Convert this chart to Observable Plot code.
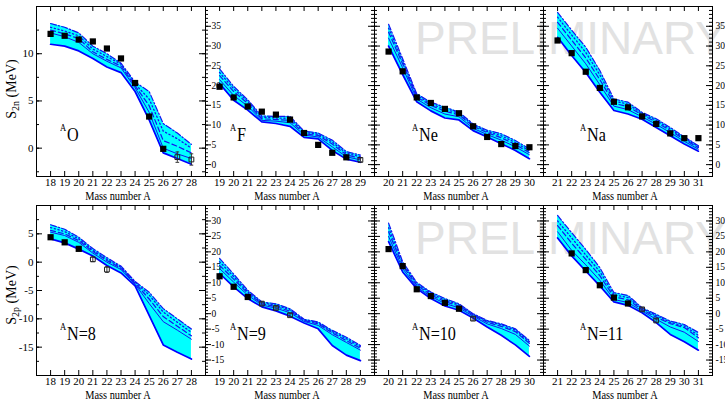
<!DOCTYPE html>
<html><head><meta charset="utf-8">
<script src="https://cdn.jsdelivr.net/npm/d3@7"></script>
<script src="https://cdn.jsdelivr.net/npm/@observablehq/plot@0.6"></script>
<style>
body{margin:0;background:#fff;}
#chart{position:relative;width:725px;height:402px;overflow:hidden;font-family:"Liberation Serif","Times New Roman",serif;color:#000;}
.wm{position:absolute;font-family:"Liberation Sans",sans-serif;font-size:46px;color:#e2e2e2;white-space:nowrap;line-height:1;}
.ytitle{position:absolute;white-space:nowrap;font-size:14px;line-height:1;transform:translate(-50%,-50%) rotate(-90deg);}
.ytitle span{font-size:10px;position:relative;top:3px;}
.xtitle{position:absolute;white-space:nowrap;font-size:11.5px;line-height:1;transform:translate(-50%,-50%) scaleX(0.9);}
.lab{position:absolute;white-space:nowrap;line-height:1;transform-origin:left top;transform:scaleX(0.85);}
svg{position:absolute;}
</style>
</head><body>
<div id="chart">
  <div class="wm" style="left:415px;top:15px">PRELIMINARY</div>
  <div class="wm" style="left:415px;top:215px">PRELIMINARY</div>
</div>
<script>
// ---------- data ----------
const topLabels = ["O", "F", "Ne", "Na"];
const bottomLabels = ["N=8", "N=9", "N=10", "N=11"];
const xTitle = "Mass number A";

const massO  = [18,19,20,21,22,23,24,25,26,27,28];
const massF  = [19,20,21,22,23,24,25,26,27,28,29];
const massNe = [20,21,22,23,24,25,26,27,28,29,30];
const massNa = [21,22,23,24,25,26,27,28,29,30,31];

// S2n, oxygen
const O_lo   = [11.0, 10.8, 10.3, 9.5, 8.6, 8.0, 6.0, 3.0, -0.5, -1.1, -1.7];
const O_hi   = [13.2, 12.8, 12.2, 10.8, 10.0, 9.0, 7.0, 6.0, 2.6, 1.6, 0.4];
const O_mid  = [12.2, 11.8, 11.2, 10.0, 9.2, 8.5, 6.4, 3.8, 0.0, -0.6, -1.1];
const O_dash = [12.5, 12.1, 11.6, 10.2, 9.4, 8.7, 6.6, 4.5, 0.8, 0.2, -0.5];
const O_dot  = [12.8, 12.4, 11.9, 10.5, 9.7, 8.9, 6.8, 5.2, 1.8, 1.0, 0.0];
const O_exp  = [12.1, 11.9, 11.5, 11.3, 10.55, 9.5, 6.9, 3.35, -0.07, null, null];
const O_new  = [null, null, null, null, null, null, null, null, null, -0.95, -1.2];
const O_err  = [null, null, null, null, null, null, null, null, null, 0.55, 0.6];

// S2n, fluorine
const F_lo   = [20.5, 16.3, 13.8, 10.8, 10.4, 9.7, 6.9, 6.5, 3.6, 1.4, 0.6];
const F_hi   = [24.2, 19.8, 16.4, 12.3, 12.2, 12.2, 8.5, 8.0, 6.2, 3.3, 2.4];
const F_mid  = [21.5, 17.5, 14.8, 11.2, 11.0, 10.6, 7.5, 7.0, 4.5, 2.0, 1.2];
const F_dash = [22.5, 18.5, 15.5, 11.6, 11.4, 11.2, 7.8, 7.4, 5.2, 2.5, 1.6];
const F_dot  = [23.3, 19.2, 16.0, 12.0, 11.8, 11.7, 8.2, 7.7, 5.7, 2.9, 2.0];
const F_exp  = [19.7, 17.0, 14.7, 13.4, 12.65, 11.4, 8.0, 5.0, 3.0, 1.85, null];
const F_new  = [null, null, null, null, null, null, null, null, null, null, 1.2];
const F_err  = [null, null, null, null, null, null, null, null, null, null, 0.5];

// S2n, neon
const Ne_lo   = [30.0, 22.8, 15.9, 13.6, 11.8, 11.3, 8.6, 7.0, 5.3, 3.6, 1.5];
const Ne_hi   = [35.5, 26.8, 17.9, 15.8, 14.5, 13.3, 10.3, 8.7, 7.8, 6.1, 4.0];
const Ne_mid  = [32.0, 24.5, 16.6, 14.4, 12.8, 12.1, 9.2, 7.6, 6.2, 4.5, 2.5];
const Ne_dash = [33.5, 25.5, 17.1, 15.0, 13.5, 12.6, 9.7, 8.1, 6.8, 5.1, 3.0];
const Ne_dot  = [34.5, 26.2, 17.5, 15.4, 14.0, 13.0, 10.0, 8.4, 7.3, 5.6, 3.5];
const Ne_exp  = [28.6, 23.6, 17.0, 15.6, 14.1, 13.0, 9.7, 7.0, 5.2, 4.7, 4.4];
const Ne_new  = [null, null, null, null, null, null, null, null, null, null, null];
const Ne_err  = [null, null, null, null, null, null, null, null, null, null, null];

// S2n, sodium
const Na_lo   = [32.2, 27.6, 23.3, 18.3, 13.7, 12.8, 11.5, 9.4, 7.3, 5.2, 3.4];
const Na_hi   = [38.5, 34.0, 29.7, 23.8, 16.6, 15.8, 13.2, 11.6, 9.4, 7.0, 4.8];
const Na_mid  = [34.5, 30.0, 25.5, 20.2, 14.8, 13.9, 12.1, 10.2, 8.1, 5.9, 3.9];
const Na_dash = [36.0, 31.5, 27.0, 21.5, 15.5, 14.7, 12.6, 10.8, 8.6, 6.4, 4.3];
const Na_dot  = [37.3, 32.8, 28.4, 22.7, 16.1, 15.3, 12.9, 11.2, 9.0, 6.7, 4.6];
const Na_exp  = [31.4, 28.2, 23.5, 19.4, 15.9, 14.5, 12.2, 10.3, 7.9, 6.7, 6.7];
const Na_new  = [null, null, null, null, null, null, null, null, null, null, null];
const Na_err  = [null, null, null, null, null, null, null, null, null, null, null];

// S2p, N=8
const N8_lo   = [4.1, 3.4, 2.3, 1.1, -0.6, -1.9, -4.2, -9.4, -14.6, -15.9, -17.1];
const N8_hi   = [6.6, 5.8, 4.4, 2.4, 0.8, -0.7, -3.4, -5.3, -8.2, -10.0, -11.8];
const N8_mid  = [5.3, 4.7, 3.5, 1.6, 0.0, -1.3, -3.9, -7.3, -10.5, -12.0, -13.6];
const N8_dash = [5.6, 5.0, 3.8, 1.9, 0.3, -1.1, -3.7, -6.5, -9.6, -11.3, -13.0];
const N8_dot  = [6.1, 5.4, 4.1, 2.1, 0.5, -0.9, -3.5, -5.8, -8.8, -10.6, -12.4];
const N8_exp  = [4.4, 3.5, 2.35, null, null, null, null, null, null, null, null];
const N8_new  = [null, null, null, 0.5, -1.3, null, null, null, null, null, null];
const N8_err  = [null, null, null, 0.4, 0.5, null, null, null, null, null, null];

// S2p, N=9
const N9_lo   = [13.0, 8.7, 4.9, 2.2, 0.9, -0.8, -3.0, -4.9, -10.3, -13.4, -15.2];
const N9_hi   = [17.9, 12.8, 7.6, 3.8, 3.2, 1.6, -1.8, -2.7, -5.4, -7.6, -10.3];
const N9_mid  = [14.6, 10.2, 6.0, 2.8, 1.8, 0.3, -2.5, -3.8, -6.8, -9.3, -11.8];
const N9_dash = [15.6, 11.2, 6.6, 3.2, 2.3, 0.8, -2.2, -3.3, -6.2, -8.7, -11.2];
const N9_dot  = [16.8, 12.0, 7.1, 3.5, 2.8, 1.2, -2.0, -3.0, -5.8, -8.1, -10.7];
const N9_exp  = [12.1, 8.7, 5.4, null, null, null, null, null, null, null, null];
const N9_new  = [null, null, null, 3.25, 1.85, -0.5, null, null, null, null, null];
const N9_err  = [null, null, null, 0.5, 0.4, 0.5, null, null, null, null, null];

// S2p, N=10
const N10_lo   = [23.3, 13.5, 8.1, 4.9, 2.5, 1.1, -1.4, -4.3, -7.0, -10.1, -13.8];
const N10_hi   = [29.3, 16.8, 10.1, 7.0, 4.9, 3.2, 0.0, -2.2, -3.3, -4.9, -8.7];
const N10_mid  = [25.0, 14.6, 8.6, 5.6, 3.3, 1.9, -0.8, -3.3, -4.8, -6.7, -10.5];
const N10_dash = [26.5, 15.5, 9.2, 6.1, 3.9, 2.5, -0.4, -2.8, -4.1, -5.8, -9.6];
const N10_dot  = [27.8, 16.2, 9.7, 6.6, 4.4, 2.9, -0.2, -2.5, -3.6, -5.3, -9.1];
const N10_exp  = [20.9, 15.4, 7.9, 5.7, 3.5, 1.6, null, null, null, null, null];
const N10_new  = [null, null, null, null, null, null, -1.6, null, null, null, null];
const N10_err  = [null, null, null, null, null, null, 0.5, null, null, null, null];

// S2p, N=11
const N11_lo   = [24.5, 18.7, 13.8, 9.0, 3.8, 2.7, 0.3, -2.9, -6.7, -9.1, -11.8];
const N11_hi   = [31.8, 26.2, 20.8, 14.9, 6.8, 5.9, 1.9, -0.2, -2.4, -3.5, -6.1];
const N11_mid  = [26.5, 20.5, 15.8, 10.8, 4.6, 3.6, 0.9, -1.8, -4.3, -6.0, -9.0];
const N11_dash = [28.5, 22.8, 17.6, 12.3, 5.4, 4.5, 1.3, -1.1, -3.2, -4.5, -7.8];
const N11_dot  = [30.0, 24.5, 19.0, 13.6, 6.1, 5.2, 1.6, -0.6, -2.8, -4.0, -7.0];
const N11_exp  = [null, 19.5, 14.1, 9.2, 5.2, 3.3, null, null, null, null, null];
const N11_new  = [null, null, null, null, null, null, 1.4, -2.2, null, null, null];
const N11_err  = [null, null, null, null, null, null, 0.5, 0.5, null, null, null];

// tick labels
const yTicksTopFirst = [0, 5, 10];
const yTicksTop = [0, 5, 10, 15, 20, 25, 30, 35];
const yTicksBotFirst = [-15, -10, -5, 0, 5];
const yTicksBot = [-15, -10, -5, 0, 5, 10, 15, 20, 25, 30];

// ---------- layout ----------
const panels = [
  {row:0,col:0,A:massO, lo:O_lo, hi:O_hi, mid:O_mid, dash:O_dash, dot:O_dot, exp:O_exp, neu:O_new, err:O_err},
  {row:0,col:1,A:massF, lo:F_lo, hi:F_hi, mid:F_mid, dash:F_dash, dot:F_dot, exp:F_exp, neu:F_new, err:F_err},
  {row:0,col:2,A:massNe,lo:Ne_lo,hi:Ne_hi,mid:Ne_mid,dash:Ne_dash,dot:Ne_dot,exp:Ne_exp,neu:Ne_new,err:Ne_err},
  {row:0,col:3,A:massNa,lo:Na_lo,hi:Na_hi,mid:Na_mid,dash:Na_dash,dot:Na_dot,exp:Na_exp,neu:Na_new,err:Na_err},
  {row:1,col:0,A:massO, lo:N8_lo, hi:N8_hi, mid:N8_mid, dash:N8_dash, dot:N8_dot, exp:N8_exp, neu:N8_new, err:N8_err},
  {row:1,col:1,A:massF, lo:N9_lo, hi:N9_hi, mid:N9_mid, dash:N9_dash, dot:N9_dot, exp:N9_exp, neu:N9_new, err:N9_err},
  {row:1,col:2,A:massNe,lo:N10_lo,hi:N10_hi,mid:N10_mid,dash:N10_dash,dot:N10_dot,exp:N10_exp,neu:N10_new,err:N10_err},
  {row:1,col:3,A:massNa,lo:N11_lo,hi:N11_hi,mid:N11_mid,dash:N11_dash,dot:N11_dot,exp:N11_exp,neu:N11_new,err:N11_err}
];

const chart = document.getElementById("chart");
const W = 169, H = 170;
const frameTop = [6, 205];
const BLUE = "#1414f0";

function build(p) {
  const fx = 36 + W * p.col, fy = frameTop[p.row];
  const mL = 40, mR = 30, mT = 6, mB = 20;
  const first = p.col === 0;
  const yd = p.row === 0 ? (first ? [-3, 15] : [-3, 40]) : (first ? [-20, 10] : [-20, 35]);
  const majors = p.row === 0 ? (first ? yTicksTopFirst : yTicksTop) : (first ? yTicksBotFirst : yTicksBot);
  const step = first ? 2.5 : 1;
  const minors = d3.range(Math.ceil(yd[0] / step) * step, yd[1] + 1e-9, step);
  const rows = p.A.map((a, k) => ({A: a, lo: p.lo[k], hi: p.hi[k], mid: p.mid[k], dash: p.dash[k], dot: p.dot[k]}));
  const exp = p.A.map((a, k) => ({A: a, v: p.exp[k]})).filter(d => d.v != null);
  const neu = p.A.map((a, k) => ({A: a, v: p.neu[k], e: p.err[k]})).filter(d => d.v != null);
  const fmt = d => String(d);
  const marks = [
    Plot.areaY(rows, {x: "A", y1: "lo", y2: "hi", fill: "#00ffff"}),
    Plot.lineY(rows, {x: "A", y: "dot", stroke: BLUE, strokeWidth: 1.3, strokeDasharray: "1.2,2.6"}),
    Plot.lineY(rows, {x: "A", y: "dash", stroke: BLUE, strokeWidth: 1.2, strokeDasharray: "5,3"}),
    Plot.lineY(rows, {x: "A", y: "mid", stroke: BLUE, strokeWidth: 1}),
    Plot.lineY(rows, {x: "A", y: "hi", stroke: BLUE, strokeWidth: 1.2, strokeDasharray: "6,2,1.5,2"}),
    Plot.lineY(rows, {x: "A", y: "lo", stroke: "#0000ff", strokeWidth: 1.7}),
    Plot.ruleX(neu, {x: "A", y1: d => d.v - d.e, y2: d => d.v + d.e, stroke: "#333", strokeWidth: 1}),
    Plot.link(neu, {x1: d => d.A - 0.13, x2: d => d.A + 0.13, y1: d => d.v - d.e, y2: d => d.v - d.e, stroke: "#333"}),
    Plot.link(neu, {x1: d => d.A - 0.13, x2: d => d.A + 0.13, y1: d => d.v + d.e, y2: d => d.v + d.e, stroke: "#333"}),
    Plot.dot(exp, {x: "A", y: "v", symbol: "square", r: 3.5, fill: "black", stroke: "none"}),
    Plot.dot(neu, {x: "A", y: "v", symbol: "square", r: 2.7, stroke: "#222", fill: "none", strokeWidth: 1}),
    Plot.frame({stroke: "black", strokeWidth: 1}),
    Plot.tickX(p.A, {x: d => d, insetTop: H - 5, stroke: "black"}),
    Plot.tickX(p.A, {x: d => d, insetBottom: H - 5, stroke: "black"}),
    Plot.tickY(majors, {y: d => d, insetRight: W - 6, stroke: "black"}),
    Plot.tickY(minors, {y: d => d, insetRight: W - 3, stroke: "black"}),
    Plot.tickY(majors, {y: d => d, insetLeft: W - 6, stroke: "black"}),
    Plot.tickY(minors, {y: d => d, insetLeft: W - 3, stroke: "black"}),
    Plot.axisX(p.A, {anchor: "bottom", tickSize: 0, tickPadding: 2, label: null, fontSize: 11, tickFormat: fmt})
  ];
  if (p.col === 0) marks.push(Plot.axisY(majors, {anchor: "left", tickSize: 0, tickPadding: 3, label: null, fontSize: 11, tickFormat: fmt}));
  if (p.col === 1) marks.push(Plot.axisY(majors, {anchor: "left", tickSize: 0, tickPadding: 0, dx: 6, textAnchor: "start", label: null, fontSize: 9.5, tickFormat: fmt}));
  if (p.col === 3) marks.push(Plot.axisY(majors, {anchor: "right", tickSize: 0, tickPadding: 3, label: null, fontSize: 9.5, tickFormat: fmt}));
  const svg = Plot.plot({
    width: W + mL + mR, height: H + mT + mB,
    marginLeft: mL, marginRight: mR, marginTop: mT, marginBottom: mB,
    x: {domain: [p.A[0] - 1, p.A[p.A.length - 1] + 1], axis: null},
    y: {domain: yd, axis: null},
    style: {fontFamily: "'Liberation Serif', serif", fontSize: "11px", background: "transparent", overflow: "visible", color: "black"},
    marks
  });
  svg.style.left = (fx - mL) + "px";
  svg.style.top = (fy - mT) + "px";
  chart.appendChild(svg);

  // x title
  const xt = document.createElement("div");
  xt.className = "xtitle";
  xt.textContent = xTitle;
  xt.style.left = (fx + W / 2 - 3) + "px";
  xt.style.top = (p.row === 0 ? 197 : 396) + "px";
  chart.appendChild(xt);

  // panel label: superscript A + element / isotone
  const labelText = p.row === 0 ? topLabels[p.col] : bottomLabels[p.col];
  const offs = [24, 25, 38, 37];
  const baseY = p.row === 0 ? 141 : 340;
  const sup = document.createElement("div");
  sup.className = "lab";
  sup.style.fontSize = "10px";
  sup.textContent = "A";
  sup.style.left = (fx + offs[p.col]) + "px";
  sup.style.top = (baseY - 10 - 8.4) + "px";
  chart.appendChild(sup);
  const main = document.createElement("div");
  main.className = "lab";
  main.style.fontSize = "19px";
  main.textContent = labelText;
  main.style.left = (fx + offs[p.col] + 7) + "px";
  main.style.top = (baseY - 16) + "px";
  chart.appendChild(main);
}
panels.forEach(build);

// y titles
const yt1 = document.createElement("div");
yt1.className = "ytitle";
yt1.innerHTML = "S<span>2n</span> (MeV)";
yt1.style.left = "12px"; yt1.style.top = "89px";
chart.appendChild(yt1);
const yt2 = document.createElement("div");
yt2.className = "ytitle";
yt2.innerHTML = "S<span>2p</span> (MeV)";
yt2.style.left = "12px"; yt2.style.top = "295px";
chart.appendChild(yt2);
</script>
</body></html>
